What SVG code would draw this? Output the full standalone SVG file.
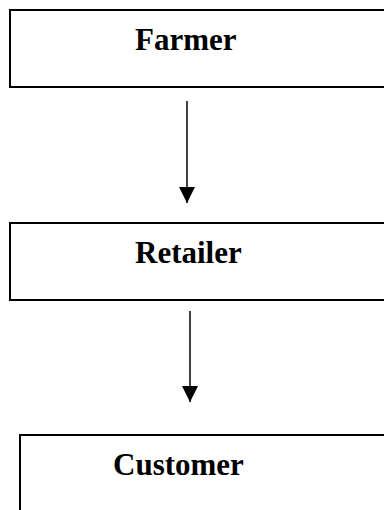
<svg xmlns="http://www.w3.org/2000/svg" width="384" height="510" viewBox="0 0 384 510">
<style>
.box{fill:#fff;stroke:#000;stroke-width:2}
.lbl{font-family:"Liberation Serif","Times New Roman",serif;font-weight:bold;font-size:31px;fill:#000}
.conn{stroke:#000;stroke-width:1.5;fill:none}
</style>
<defs>
<marker id="ah" markerUnits="userSpaceOnUse" markerWidth="17" markerHeight="16" refX="16" refY="8" orient="auto">
<polygon points="0,0 16,8 0,16" fill="#000"/>
</marker>
</defs>
<rect width="384" height="510" fill="#fff"/>
<g id="farmer">
<rect class="box" x="10" y="10" width="400" height="77"/>
<text class="lbl" x="135" y="50">Farmer</text>
</g>
<g id="retailer">
<rect class="box" x="10" y="223" width="400" height="77"/>
<text class="lbl" x="135" y="263">Retailer</text>
</g>
<g id="customer">
<rect class="box" x="20" y="435" width="400" height="100"/>
<text class="lbl" x="113" y="475">Customer</text>
</g>
<g id="connectors">
<line class="conn" x1="187" y1="101" x2="187" y2="203" marker-end="url(#ah)"/>
<line class="conn" x1="190" y1="311" x2="190" y2="402" marker-end="url(#ah)"/>
</g>
</svg>
